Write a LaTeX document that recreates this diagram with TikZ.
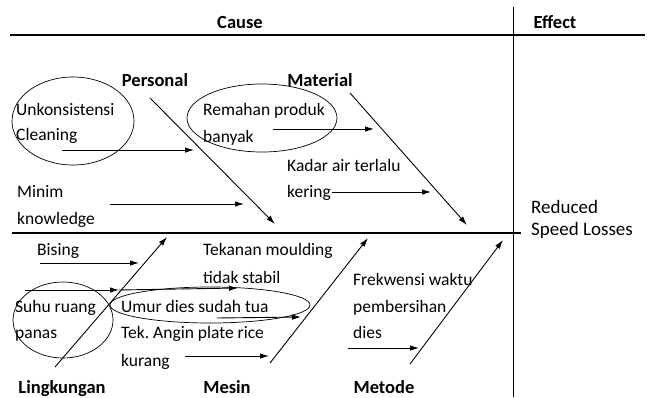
\documentclass[tikz,border=0pt]{standalone}
\usepackage{fontspec}
\setmainfont{Carlito}
\usetikzlibrary{arrows.meta}
\frenchspacing
\begin{document}
\begin{tikzpicture}[x=1pt,y=-1pt,
  txt/.style={anchor=base west,inner sep=0pt,font=\fontsize{17.5}{19}\selectfont},
  eff/.style={anchor=base west,inner sep=0pt,font=\fontsize{19}{21}\selectfont},
  head/.style={anchor=base,inner sep=0pt,font=\fontsize{18.5}{20}\selectfont\bfseries},
  bone/.style={line width=0.9pt,-{Latex[length=9pt,width=5.5pt]}},
  sub/.style={line width=0.9pt,-{Latex[length=9pt,width=5.5pt]}},
  ring/.style={line width=0.7pt}]
\useasboundingbox (0,0) rectangle (649,397);
% frame
\coordinate (tl) at (10,35); \coordinate (tr) at (645,35);
\coordinate (vt) at (513,7); \coordinate (vb) at (513,397);
\coordinate (sl) at (12,233); \coordinate (sr) at (521,233);
\draw[line width=1.6pt] (tl) -- (tr);
\draw[line width=1pt] (vt) -- (vb);
\draw[line width=1.6pt] (sl) -- (sr);
\node[head] (cause) at (240,28) {Cause};
\node[head] (effect) at (555,28) {Effect};
\node[eff] (eff1) at (531,213) {Reduced};
\node[eff] (eff2) at (531,235) {Speed Losses};
% category labels
\node[head] (personal) at (155,86) {Personal};
\node[head] (material) at (320,86) {Material};
\node[head] (lingk) at (62,393) {Lingkungan};
\node[head] (mesin) at (227,393) {Mesin};
\node[head] (metode) at (384,393) {Metode};
% bones
\coordinate (p1) at (150,98); \coordinate (p2) at (275,224);
\coordinate (m1) at (350,93); \coordinate (m2) at (467,225);
\coordinate (l1) at (55,367); \coordinate (l2) at (167,237);
\coordinate (e1) at (270,363); \coordinate (e2) at (368,238);
\coordinate (t1) at (410,364); \coordinate (t2) at (503,240);
\draw[bone] (p1) -- (p2);
\draw[bone] (m1) -- (m2);
\draw[bone] (l1) -- (l2);
\draw[bone] (e1) -- (e2);
\draw[bone] (t1) -- (t2);
% texts
\node[txt] (unk1) at (16,115) {Unkonsistensi};
\node[txt] (unk2) at (16,140) {Cleaning};
\node[txt] (min1) at (17,197) {Minim};
\node[txt] (min2) at (17,224) {knowledge};
\node[txt] (rem1) at (203,115) {Remahan produk};
\node[txt] (rem2) at (203,142) {banyak};
\node[txt] (kad1) at (287,171) {Kadar air terlalu};
\node[txt] (kad2) at (287,197) {kering};
\node[txt] (bis) at (37,255) {Bising};
\node[txt] (tek1) at (203,255) {Tekanan moulding};
\node[txt] (tek2) at (203,283) {tidak stabil};
\node[txt] (suh1) at (15,312) {Suhu ruang};
\node[txt] (suh2) at (15,338) {panas};
\node[txt] (umr) at (121,312) {Umur dies sudah tua};
\node[txt] (ang1) at (121,338) {Tek. Angin plate rice};
\node[txt] (ang2) at (121,366) {kurang};
\node[txt] (frk1) at (353,285) {Frekwensi waktu};
\node[txt] (frk2) at (353,312) {pembersihan};
\node[txt] (frk3) at (353,338) {dies};
% sub arrows
\coordinate (a1s) at (62,150); \coordinate (a1e) at (194,150);
\coordinate (a2s) at (110,204); \coordinate (a2e) at (244,204);
\coordinate (a3s) at (273,129); \coordinate (a3e) at (374,129);
\coordinate (a4s) at (332,192); \coordinate (a4e) at (431,192);
\coordinate (a5s) at (40,263); \coordinate (a5e) at (139,263);
\coordinate (a6s) at (25,290); \coordinate (a6e) at (119,290);
\coordinate (a7s) at (119,290); \coordinate (a7e) at (238,288);
\coordinate (a8s) at (217,318); \coordinate (a8e) at (301,317);
\coordinate (a9s) at (185,356); \coordinate (a9e) at (269,356);
\coordinate (a10s) at (348,348); \coordinate (a10e) at (419,348);
\draw[sub] (a1s) -- (a1e);
\draw[sub] (a2s) -- (a2e);
\draw[sub] (a3s) -- (a3e);
\draw[sub] (a4s) -- (a4e);
\draw[sub] (a5s) -- (a5e);
\draw[sub] (a6s) -- (a6e);
\draw[sub] (a7s) -- (a7e);
\draw[sub] (a8s) -- (a8e);
\draw[sub] (a9s) -- (a9e);
\draw[sub] (a10s) -- (a10e);
% ellipses
\draw[ring] (73,121) ellipse [x radius=61, y radius=44];
\draw[ring] (262,118) ellipse [x radius=75, y radius=34];
\draw[ring] (63,320) ellipse [x radius=50, y radius=38];
\draw[ring] (210,305) ellipse [x radius=100, y radius=18];
\end{tikzpicture}
\end{document}
